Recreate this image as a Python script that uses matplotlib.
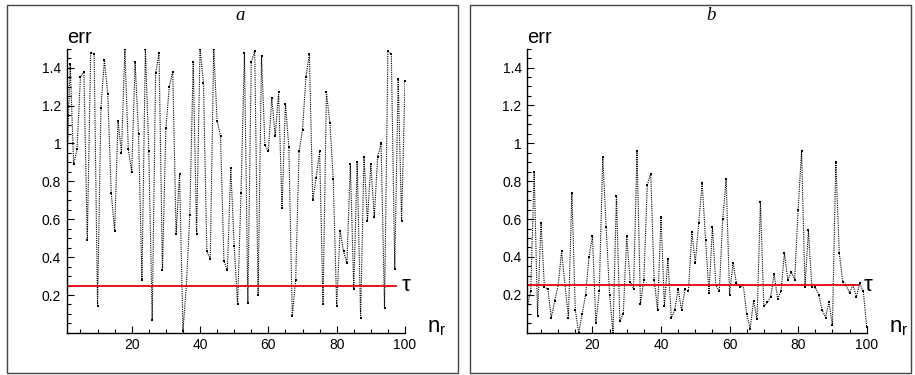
import matplotlib
matplotlib.use("Agg")
import matplotlib.pyplot as plt
from matplotlib.patches import Rectangle
from matplotlib.ticker import MultipleLocator, FormatStrFormatter
import numpy as np

plt.rcParams['font.family'] = ['Liberation Sans', 'DejaVu Sans']

# error per realisation, n_r = 1..100
n_r = np.arange(1, 101)

err_a = [0.87, 1.42, 0.89, 0.97, 1.35, 1.38, 0.49, 1.48, 1.47, 0.14,
         1.19, 1.44, 1.26, 0.74, 0.54, 1.12, 0.95, 1.50, 0.97, 0.85,
         1.43, 1.05, 0.28, 1.50, 0.96, 0.07, 1.37, 1.48, 0.33, 1.08,
         1.30, 1.38, 0.52, 0.84, 0.01, 0.25, 0.62, 1.43, 0.52, 1.50,
         1.32, 0.43, 0.39, 1.50, 1.12, 1.04, 0.38, 0.33, 0.87, 0.46,
         0.15, 0.74, 1.48, 0.16, 1.43, 1.49, 0.20, 1.46, 0.99, 0.96,
         1.24, 1.04, 1.27, 0.66, 1.21, 0.98, 0.09, 0.28, 0.96, 1.07,
         1.35, 1.47, 0.70, 0.82, 0.96, 0.15, 1.27, 1.11, 0.81, 0.14,
         0.54, 0.43, 0.37, 0.89, 0.23, 0.90, 0.08, 0.93, 0.59, 0.89,
         0.61, 0.93, 1.00, 0.13, 1.49, 1.47, 0.34, 1.34, 0.59, 1.33]

err_b = [0.14, 0.22, 0.85, 0.09, 0.58, 0.24, 0.23, 0.08, 0.17, 0.25,
         0.43, 0.25, 0.08, 0.74, 0.12, 0.00, 0.10, 0.20, 0.40, 0.51,
         0.05, 0.22, 0.93, 0.56, 0.20, 0.00, 0.72, 0.06, 0.10, 0.51,
         0.27, 0.23, 0.96, 0.15, 0.28, 0.78, 0.84, 0.28, 0.12, 0.61,
         0.14, 0.39, 0.08, 0.12, 0.23, 0.12, 0.23, 0.22, 0.53, 0.37,
         0.58, 0.79, 0.49, 0.21, 0.56, 0.25, 0.22, 0.60, 0.81, 0.20,
         0.37, 0.26, 0.24, 0.25, 0.10, 0.02, 0.17, 0.07, 0.69, 0.14,
         0.16, 0.19, 0.31, 0.18, 0.22, 0.42, 0.28, 0.32, 0.28, 0.65,
         0.96, 0.24, 0.54, 0.24, 0.24, 0.20, 0.12, 0.08, 0.16, 0.04,
         0.90, 0.42, 0.27, 0.25, 0.21, 0.25, 0.19, 0.26, 0.22, 0.03]

tau = 0.25
tau_end = 97.5
panel_labels = ['a', 'b']

W, H = 915, 375
fig = plt.figure(figsize=(W / 100, H / 100), dpi=100)

# boxes around each panel (pixel coords -> figure fraction)
for x0, x1 in [(7, 458), (470, 911)]:
    fig.patches.append(Rectangle((x0 / W, 1 - 373 / H), (x1 - x0) / W, 368 / H,
                                 transform=fig.transFigure, fill=False,
                                 edgecolor='#444444', lw=1.0))

axes_pos = [[66.8 / W, 1 - 332.9 / H, 338.2 / W, 284.1 / H],
            [527.3 / W, 1 - 332.7 / H, 339.4 / W, 284.1 / H]]
label_x = [240, 711]

for pos, err, lab, lx in zip(axes_pos, [err_a, err_b], panel_labels, label_x):
    ax = fig.add_axes(pos)
    ax.plot(n_r, err, color='k', lw=0.8, ls=(0, (1, 1)),
            marker='s', ms=2, mew=0, mfc='k', clip_on=True)
    ax.plot([1, tau_end], [tau, tau], color='#e8000b', lw=1.3)

    ax.set_xlim(1, 100)
    ax.set_ylim(0, 1.5)
    for s in ['top', 'right']:
        ax.spines[s].set_visible(False)
    for s in ['left', 'bottom']:
        ax.spines[s].set_linewidth(1.0)

    ax.xaxis.set_major_locator(MultipleLocator(20))
    ax.xaxis.set_minor_locator(MultipleLocator(5))
    ax.yaxis.set_major_locator(MultipleLocator(0.2))
    ax.yaxis.set_minor_locator(MultipleLocator(0.05))
    ax.yaxis.set_major_formatter(FormatStrFormatter('%g'))
    ax.set_xticks([20, 40, 60, 80, 100])
    ax.set_yticks([0.2, 0.4, 0.6, 0.8, 1.0, 1.2, 1.4])
    ax.tick_params(which='both', direction='in', labelsize=10, width=0.8)
    ax.tick_params(which='major', length=5, pad=4)
    ax.tick_params(which='minor', length=3)

    ax.text(0.0, 1.019, 'err', transform=ax.transAxes, fontsize=14.5,
            ha='left', va='baseline')
    ax.text(tau_end + 1.3, tau, r'$\mathregular{\tau}$', fontsize=16,
            ha='left', va='center')
    ax.text(1.065, 0.0, r'n$_\mathregular{r}$', transform=ax.transAxes,
            fontsize=16, ha='left', va='baseline')

    fig.text(lx / W, 1 - 20 / H, lab, fontsize=13.5, ha='center', va='baseline',
             family='Liberation Serif', style='italic')

fig.savefig('out.png', dpi=100)
